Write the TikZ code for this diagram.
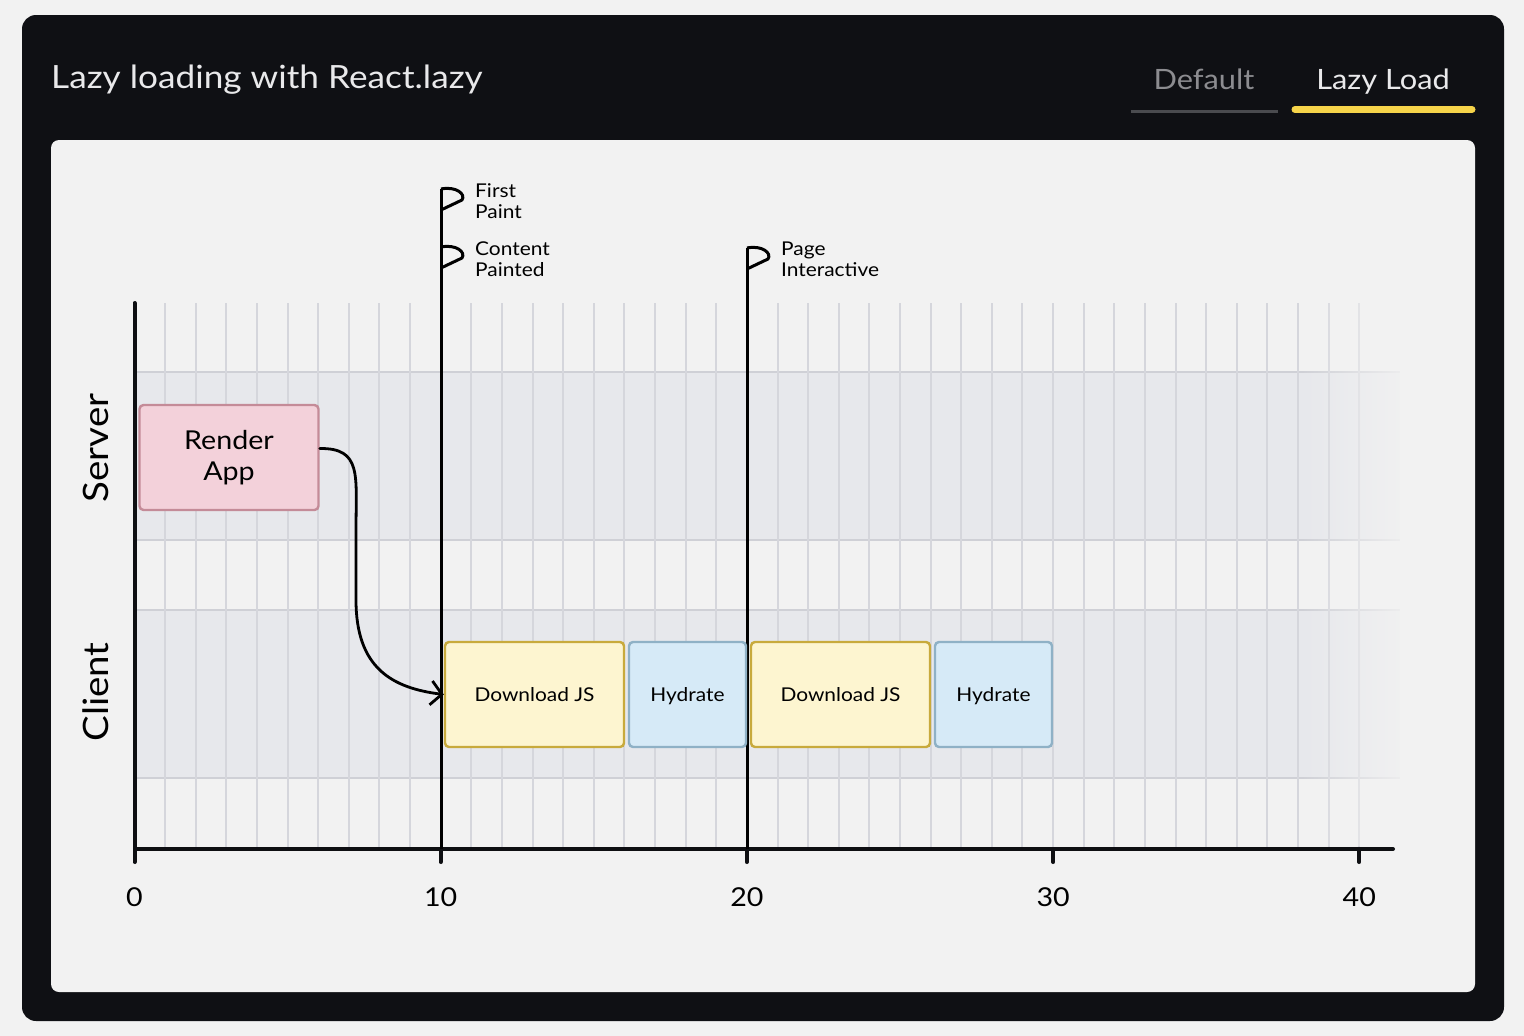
\documentclass[tikz,border=0pt]{standalone}
\usepackage{fontspec}
\setmainfont{Lato}[FakeStretch=1.1]
\usepackage{tikz}
\usetikzlibrary{arrows.meta}
\usetikzlibrary{fadings}
\usepackage{xcolor}
\definecolor{pagebg}{HTML}{F2F2F2}
\definecolor{panel}{HTML}{0F1014}
\definecolor{band}{HTML}{E7E8EC}
\definecolor{bandline}{HTML}{CFD0D6}
\definecolor{gridline}{HTML}{D5D6DC}
\definecolor{axisblack}{HTML}{0E0F12}
\definecolor{renderfill}{HTML}{F3D1DA}
\definecolor{renderedge}{HTML}{C48B98}
\definecolor{dlfill}{HTML}{FDF5D0}
\definecolor{dledge}{HTML}{C8AA3C}
\definecolor{hyfill}{HTML}{D6EAF7}
\definecolor{hyedge}{HTML}{8FB1C6}
\definecolor{tabyellow}{HTML}{F6D44A}
\definecolor{tabgray}{HTML}{8C8C90}
\definecolor{tabline}{HTML}{4A4B4F}
\definecolor{titlecol}{HTML}{E9E9EB}
\newcommand{\fsz}[2]{\fontsize{#1}{#2}\selectfont}
\newcommand{\tx}[1]{134.5+30.62*#1}
\tikzfading[name=faderight, left color=transparent!100, right color=transparent!0]

\begin{document}
\begin{tikzpicture}[x=1pt,y=-1pt]
\tikzstyle{task}=[rectangle, rounded corners=4pt, line width=2.4pt, inner sep=0pt, minimum height=105pt, text=black, font=\fsz{19}{23}]
\tikzstyle{render}=[task, fill=renderfill, draw=renderedge, minimum width=179pt, align=center, font=\fsz{26}{31}]
\tikzstyle{dljs}=[task, fill=dlfill, draw=dledge, minimum width=179pt, text height=14pt, text depth=1pt]
\tikzstyle{hydr}=[task, fill=hyfill, draw=hyedge, minimum width=117pt, text height=14pt, text depth=1pt]
\tikzstyle{axisln}=[axisblack, line width=4pt, line cap=round]
\tikzstyle{mile}=[black, line width=3pt, line join=round]
\tikzstyle{flaglbl}=[anchor=west, inner sep=0pt, align=left, font=\fsz{19}{21}]
\tikzstyle{ticklbl}=[anchor=base, inner sep=0pt, font=\fsz{26}{30}]
\tikzstyle{lane}=[rotate=90, inner sep=0pt, font=\fsz{35}{40}]
\useasboundingbox (0,0) rectangle (1524,1036);
\fill[pagebg] (0,0) rectangle (1524,1036);
\fill[panel, rounded corners=14pt] (22,15) rectangle (1504,1021);
\fill[pagebg, rounded corners=8pt] (51,140) rectangle (1475,992);
\node[anchor=base west, inner sep=0pt, text=titlecol, font=\fsz{32}{38}] (title) at (51,88) {Lazy loading with React.lazy};
\node[anchor=base, inner sep=0pt, text=tabgray, font=\fsz{28}{32}] (deftab) at (1204,89) {Default};
\node[anchor=base, inner sep=0pt, text=titlecol, font=\fsz{28}{32}] (lazytab) at (1383,89) {Lazy Load};
\draw[tabline, line width=3pt] (1131,111) -- (1278,111);
\draw[tabyellow, line width=7pt, line cap=round] (1295,109.5) -- (1472,109.5);
\fill[band] (134,372) rectangle (1400,540);
\fill[band] (134,610) rectangle (1400,778);
\foreach \y in {372,540,610,778}
  \draw[bandline, line width=2pt] (134,\y) -- (1400,\y);
\foreach \i in {1,...,40}
  \draw[gridline, line width=2pt] ({\tx{\i}},303) -- ({\tx{\i}},848);
\fill[pagebg, path fading=faderight] (1300,298) rectangle (1420,846);
\node[lane] (srv) at (96,448) {Server};
\node[lane] (cli) at (96,692) {Client};
\draw[axisln] (134.5,303) -- (134.5,849) -- (1393,849);
\foreach \t in {0,10,20,30,40} {
  \draw[axisln] ({\tx{\t}},849) -- ({\tx{\t}},862);
  \node[ticklbl] (t\t) at ({\tx{\t}},906) {\t};
}
\coordinate (fp) at (441,189);
\coordinate (cp) at (441,247);
\coordinate (pi) at (747,248);
\draw[mile] (fp) -- (441,849);
\draw[mile] (pi) -- (747,849);
\foreach \x/\y in {441/189, 441/247, 747/248}
  \draw[mile] (\x,\y) .. controls (\x+15,\y-3) and (\x+25,\y+5) .. (\x+21,\y+11) -- (\x,\y+21);
\node[flaglbl] (fpl) at (475,201) {First\\Paint};
\node[flaglbl] (cpl) at (475,259) {Content\\Painted};
\node[flaglbl] (pil) at (781,259) {Page\\Interactive};
\node[render] (ra) at (229,457.5) {Render\\App};
\node[dljs] (dl1) at (534.5,694.5) {Download JS};
\node[hydr] (hy1) at (687.5,694.5) {Hydrate};
\node[dljs] (dl2) at (840.5,694.5) {Download JS};
\node[hydr] (hy2) at (993.5,694.5) {Hydrate};
\draw[black, line width=2.8pt, line cap=round, line join=round, -{Straight Barb[length=11pt,width=24pt]}] ([yshift=9pt]ra.east) .. controls (362,448) and (356,475) .. (356,530) -- (356,600) .. controls (356,668) and (392,688) .. (dl1.west);
\end{tikzpicture}
\end{document}
